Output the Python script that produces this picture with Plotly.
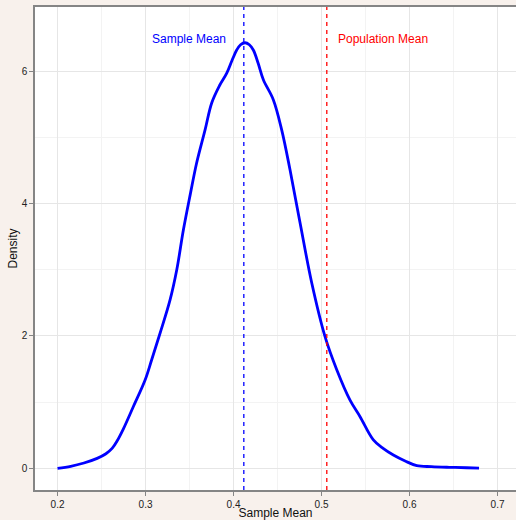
import plotly.graph_objects as go

# Density curve of the sample mean
sample_mean_x = [0.200, 0.215, 0.230, 0.245, 0.255, 0.262, 0.268, 0.275, 0.2861, 0.2994,
                 0.307, 0.3165, 0.3278, 0.3355, 0.343, 0.351, 0.358, 0.3676, 0.3752, 0.384,
                 0.3923, 0.3985, 0.4036, 0.408, 0.4131, 0.418, 0.4225, 0.428, 0.4339, 0.4452,
                 0.4548, 0.4642, 0.4756, 0.4889, 0.504, 0.5173, 0.5324, 0.5438, 0.5589, 0.570,
                 0.5816, 0.595, 0.6082, 0.625, 0.645, 0.665, 0.679]
density_y = [0.0, 0.03, 0.08, 0.15, 0.22, 0.30, 0.42, 0.60, 0.93, 1.33,
             1.64, 2.04, 2.54, 3.00, 3.60, 4.15, 4.61, 5.11, 5.52, 5.78,
             5.97, 6.17, 6.32, 6.40, 6.43, 6.40, 6.32, 6.12, 5.87, 5.57,
             5.11, 4.51, 3.71, 2.80, 1.99, 1.49, 1.03, 0.78, 0.43, 0.30,
             0.20, 0.11, 0.04, 0.025, 0.015, 0.008, 0.003]

sample_mean_value = 0.4117
population_mean_value = 0.506

x_tick_vals = [0.2, 0.3, 0.4, 0.5, 0.6, 0.7]
x_tick_text = ["0.2", "0.3", "0.4", "0.5", "0.6", "0.7"]
y_tick_vals = [0, 2, 4, 6]
y_tick_text = ["0", "2", "4", "6"]

label_y = 6.49
sample_label_x = 0.3494
population_label_x = 0.5695

FONT = "Liberation Sans, Arial, sans-serif"

fig = go.Figure()
fig.add_trace(go.Scatter(x=sample_mean_x, y=density_y, mode="lines",
                         line=dict(color="#0000ff", width=2.8, shape="spline", smoothing=1.0),
                         hoverinfo="skip", showlegend=False))

fig.add_vline(x=sample_mean_value, line=dict(color="#0000ff", width=1.3, dash="4px,4px"))
fig.add_vline(x=population_mean_value, line=dict(color="#ff0000", width=1.3, dash="4px,4px"))

fig.add_annotation(x=sample_label_x, y=label_y, text="Sample Mean", showarrow=False,
                   font=dict(color="#0000ff", size=12, family=FONT))
fig.add_annotation(x=population_label_x, y=label_y, text="Population Mean", showarrow=False,
                   font=dict(color="#ff0000", size=12, family=FONT))

fig.update_layout(
    width=516, height=520,
    margin=dict(l=35, r=0, t=7, b=30),
    paper_bgcolor="#f8f1ec",
    plot_bgcolor="#ffffff",
    font=dict(family=FONT, color="#1a1a1a"),
    xaxis=dict(range=[0.1744, 0.721], tickvals=x_tick_vals, ticktext=x_tick_text,
               showgrid=True, gridcolor="#e6e6e6", gridwidth=1.2,
               minor=dict(dtick=0.05, tick0=0.05, showgrid=True, gridcolor="#f3f3f3", gridwidth=1),
               zeroline=False, showline=True, linecolor="#858585", linewidth=1.5, mirror=True,
               ticks="outside", ticklen=4, tickcolor="#858585", tickwidth=1,
               tickfont=dict(size=10, color="#222222"),
               title=dict(text="Sample Mean", font=dict(size=12, color="#111111"), standoff=2)),
    yaxis=dict(range=[-0.328, 6.97], tickvals=y_tick_vals, ticktext=y_tick_text,
               showgrid=True, gridcolor="#e6e6e6", gridwidth=1.2,
               minor=dict(dtick=1, tick0=1, showgrid=True, gridcolor="#f3f3f3", gridwidth=1),
               zeroline=False, showline=True, linecolor="#858585", linewidth=1.5,
               ticks="outside", ticklen=4, tickcolor="#858585", tickwidth=1,
               tickfont=dict(size=10, color="#222222"),
               title=dict(text="Density", font=dict(size=12, color="#111111"), standoff=1)),
)

fig.write_html("out.html")
